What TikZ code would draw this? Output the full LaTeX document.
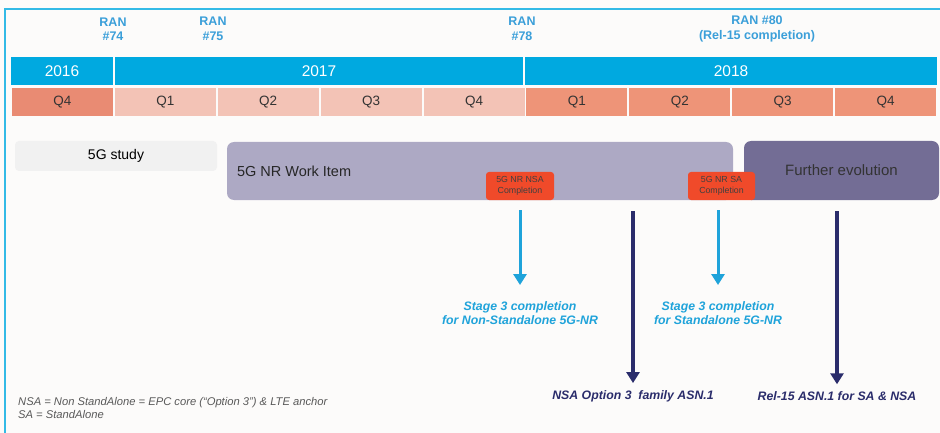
\documentclass[tikz,border=0pt]{standalone}
\usepackage{fontspec}
\setmainfont{Liberation Sans}
\usepackage{tikz}
\usetikzlibrary{arrows.meta,positioning}

\definecolor{yearblue}{HTML}{00A9E0}
\definecolor{qold}{HTML}{E98B73}
\definecolor{qmid}{HTML}{F3C3B6}
\definecolor{qnew}{HTML}{EE9478}
\definecolor{studygray}{HTML}{F1F1F1}
\definecolor{wilav}{HTML}{ADA9C4}
\definecolor{evopurple}{HTML}{736D95}
\definecolor{compred}{HTML}{F04A2A}
\definecolor{stageblue}{HTML}{1FA3DA}
\definecolor{ranblue}{HTML}{3B9FD9}
\definecolor{navy}{HTML}{2A2C6B}
\definecolor{paper}{HTML}{FCFBFA}

\begin{document}
\begin{tikzpicture}[x=1pt,y=-1pt,
    yearcell/.style={fill=yearblue,text=white,minimum height=28pt,inner sep=0pt,font=\fontsize{15.5}{17}\selectfont},
    qcell/.style={minimum width=101pt,minimum height=28pt,inner sep=0pt,text=black!80,font=\fontsize{13.5}{15}\selectfont},
    ranlabel/.style={align=center,text=ranblue,font=\bfseries\fontsize{12.5}{14.5}\selectfont},
    phase/.style={rounded corners=7pt,inner sep=0pt},
    compbox/.style={fill=compred,rounded corners=3pt,minimum width=68pt,minimum height=28pt,inner sep=0pt,align=center,text=black!75,font=\fontsize{8.8}{10.5}\selectfont},
    stagelabel/.style={align=center,inner sep=0pt,text=stageblue,font=\bfseries\itshape\fontsize{12.3}{14.5}\selectfont},
    asnlabel/.style={inner sep=0pt,text=navy,font=\bfseries\itshape\fontsize{12.3}{14}\selectfont},
    bluearrow/.style={draw=stageblue,line width=3pt,-{Triangle[width=13pt,length=11pt]}},
    navyarrow/.style={draw=navy,line width=3.2pt,-{Triangle[width=13pt,length=11pt]}}]
    \useasboundingbox (0,0) rectangle (940,433);
    \fill[paper] (0,0) rectangle (940,433);
    \draw[yearblue!80,line width=1.5pt] (5,433) -- (5,9) -- (940,9);

    % meetings
    \node[ranlabel] (ran74) at (113,29) {RAN\\\#74};
    \node[ranlabel] (ran75) at (213,29) {RAN\\\#75};
    \node[ranlabel] (ran78) at (522,29) {RAN\\\#78};
    \node[ranlabel] (ran80) at (757,29) {RAN \#80\\(Rel-15 completion)};

    % years and quarters
    \node[yearcell,minimum width=102pt] (y16) at (62,71) {2016};
    \node[yearcell,minimum width=408pt] (y17) at (319,71) {2017};
    \node[yearcell,minimum width=412pt] (y18) at (731,71) {2018};
    \foreach \i/\q/\c in {0/Q4/qold,1/Q1/qmid,2/Q2/qmid,3/Q3/qmid,4/Q4/qmid,5/Q1/qnew,6/Q2/qnew,7/Q3/qnew,8/Q4/qnew}
        \node[qcell,fill=\c] (q\i) at ({62.4+102.9*\i},102) {\q};

    % phases
    \node[phase,fill=studygray,rounded corners=4pt,minimum width=202pt,minimum height=30pt,font=\fontsize{14}{16}\selectfont] (study) at (116,156) {5G study};
    \node[phase,fill=wilav,minimum width=506pt,minimum height=58pt] (wi) at (480,171) {};
    \node[right=10pt of wi.west,anchor=west,inner sep=0pt,text=black!85,font=\fontsize{14.5}{16}\selectfont] (witext) {5G NR Work Item};
    \node[phase,fill=evopurple,minimum width=195pt,minimum height=59pt,text=black!80,font=\fontsize{15}{17}\selectfont] (evo) at (841.5,170.5) {Further evolution};
    \node[compbox] (nsa) at (520,186) {5G NR NSA\\Completion};
    \node[compbox,minimum width=67pt] (sa) at (721.5,186) {5G NR SA\\Completion};

    % outcomes
    \node[stagelabel] (stagensa) at (520,313) {Stage 3 completion\\for Non-Standalone 5G-NR};
    \node[stagelabel] (stagesa) at (718,313) {Stage 3 completion\\for Standalone 5G-NR};
    \node[asnlabel] (asnnsa) at (633,396) {NSA Option 3\ \ family ASN.1};
    \node[asnlabel] (asnrel) at (837,396) {Rel-15 ASN.1 for SA \& NSA};

    \draw[bluearrow,shorten <=10pt,shorten >=16pt] (nsa.south -| stagensa) -- (stagensa.north);
    \draw[bluearrow,shorten <=10pt,shorten >=16pt] (sa.south -| stagesa) -- (stagesa.north);
    \draw[navyarrow,shorten <=11pt,shorten >=7pt] (wi.south -| asnnsa) -- (asnnsa.north);
    \draw[navyarrow,shorten <=11pt,shorten >=7pt] (evo.south -| asnrel) -- (asnrel.north);

    % note
    \node[anchor=north west,align=left,inner sep=0pt,text=black!65,font=\itshape\fontsize{11.2}{13}\selectfont] (note) at (18,397) {NSA = Non StandAlone = EPC core (``Option 3'') \& LTE anchor\\SA = StandAlone};
\end{tikzpicture}
\end{document}
